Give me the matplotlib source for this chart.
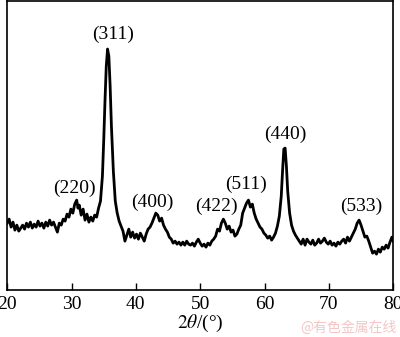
import matplotlib
matplotlib.use("Agg")
import matplotlib.pyplot as plt

# XRD pattern, 2theta (deg) vs intensity (arbitrary units)
two_theta = [
    20.0, 20.3, 20.6, 20.9, 21.2, 21.5, 21.8, 22.1, 22.4, 22.7, 23.0, 23.3, 23.6, 23.9,
    24.2, 24.5, 24.8, 25.1, 25.4, 25.7, 26.0, 26.3, 26.6, 26.9, 27.2, 27.5, 27.8, 28.1,
    28.4, 28.7, 29.0, 29.3, 29.6, 29.9, 30.2, 30.5, 30.8, 31.0, 31.2, 31.5, 31.8, 32.1,
    32.4, 32.7, 33.0, 33.3, 33.6, 33.9, 34.2, 34.5, 34.8, 35.0, 35.2, 35.4, 35.6, 35.8,
    36.0, 36.2, 36.5, 36.8, 37.1, 37.4, 37.7, 38.0, 38.3, 38.6, 38.9, 39.2, 39.5, 39.8,
    40.1, 40.4, 40.7, 41.0, 41.3, 41.6, 41.9, 42.2, 42.5, 42.8, 43.1, 43.4, 43.7, 44.0,
    44.3, 44.6, 44.9, 45.2, 45.5, 45.8, 46.1, 46.4, 46.7, 47.0, 47.3, 47.6, 47.9, 48.2,
    48.5, 48.8, 49.1, 49.4, 49.7, 50.0, 50.3, 50.6, 50.9, 51.2, 51.5, 51.8, 52.1, 52.4,
    52.7, 53.0, 53.3, 53.6, 53.9, 54.2, 54.5, 54.8, 55.1, 55.4, 55.7, 56.0, 56.3, 56.6,
    56.9, 57.2, 57.5, 57.8, 58.1, 58.4, 58.7, 59.0, 59.3, 59.6, 59.9, 60.2, 60.5, 60.8,
    61.1, 61.4, 61.7, 62.0, 62.3, 62.6, 62.8, 63.0, 63.2, 63.4, 63.6, 63.9, 64.2, 64.5,
    64.8, 65.1, 65.4, 65.7, 66.0, 66.3, 66.6, 66.9, 67.2, 67.5, 67.8, 68.1, 68.4, 68.7,
    69.0, 69.3, 69.6, 69.9, 70.2, 70.5, 70.8, 71.1, 71.4, 71.7, 72.0, 72.3, 72.6, 72.9,
    73.2, 73.5, 73.8, 74.1, 74.4, 74.7, 75.0, 75.3, 75.6, 75.9, 76.2, 76.5, 76.8, 77.1,
    77.4, 77.7, 78.0, 78.3, 78.6, 78.9, 79.2, 79.5, 79.8, 80.0,
]
intensity = [
    67, 71, 63, 68, 60, 65, 59, 62, 65, 61, 67, 63, 68, 62,
    66, 63, 69, 64, 67, 62, 68, 64, 70, 65, 68, 63, 58, 67,
    65, 71, 69, 76, 73, 81, 77, 86, 90, 82, 85, 75, 81, 70,
    76, 68, 73, 69, 75, 73, 82, 89, 114, 149, 189, 224, 241, 234,
    204, 164, 119, 89, 77, 69, 64, 59, 49, 55, 61, 53, 58, 52,
    56, 51, 57, 53, 49, 56, 61, 63, 67, 72, 77, 75, 69, 72,
    65, 61, 58, 53, 51, 47, 49, 46, 48, 45, 48, 45, 49, 46,
    45, 47, 44, 48, 51, 47, 44, 46, 43, 47, 45, 49, 51, 54,
    61, 59, 67, 71, 67, 61, 64, 58, 60, 54, 56, 61, 65, 77,
    82, 87, 90, 83, 86, 77, 71, 67, 63, 61, 57, 55, 52, 54,
    50, 53, 57, 64, 74, 94, 119, 141, 142, 124, 99, 77, 65, 59,
    55, 52, 49, 46, 51, 45, 51, 48, 46, 50, 45, 47, 51, 47,
    49, 52, 48, 46, 49, 45, 47, 44, 48, 46, 49, 51, 47, 53,
    49, 53, 57, 61, 67, 70, 65, 59, 53, 54, 49, 43, 37, 39,
    36, 41, 38, 43, 41, 45, 42, 48, 53, 49,
]

peak_labels = ["(220)", "(311)", "(400)", "(422)", "(511)", "(440)", "(533)"]
label_x = [30.5, 36.4, 42.6, 52.6, 57.1, 63.2, 75.0]
label_y = [102, 256, 88, 84, 106, 156, 84]

plt.rcParams["font.family"] = ["Liberation Serif", "DejaVu Serif"]
plt.rcParams["mathtext.fontset"] = "stix"

fig = plt.figure(figsize=(4.0, 3.37), dpi=100)
ax = fig.add_axes([0.018, 0.139, 0.965, 0.858])
ax.plot(two_theta, intensity, color="black", lw=2.0)

for lab, x, y in zip(peak_labels, label_x, label_y):
    ax.text(x, y, lab, fontsize=14, ha="center", va="center")

ax.set_xlim(20, 80)
ax.set_ylim(0, 289)
ax.set_xticks([20, 30, 40, 50, 60, 70, 80])
ax.set_yticks([])
ax.tick_params(axis="x", direction="in", length=5, width=1, labelsize=14, pad=4)
for sp in ax.spines.values():
    sp.set_linewidth(1.2)
ax.set_xlabel(r"$\mathit{2\theta}$/(°)", fontsize=14, labelpad=0)

fig.text(0.872, 0.027, "@有色金属在线", fontsize=10, color="#f4c6c6",
         ha="center", va="center", family=["Noto Sans CJK SC", "DejaVu Sans"])

fig.savefig("out.png", dpi=100)
